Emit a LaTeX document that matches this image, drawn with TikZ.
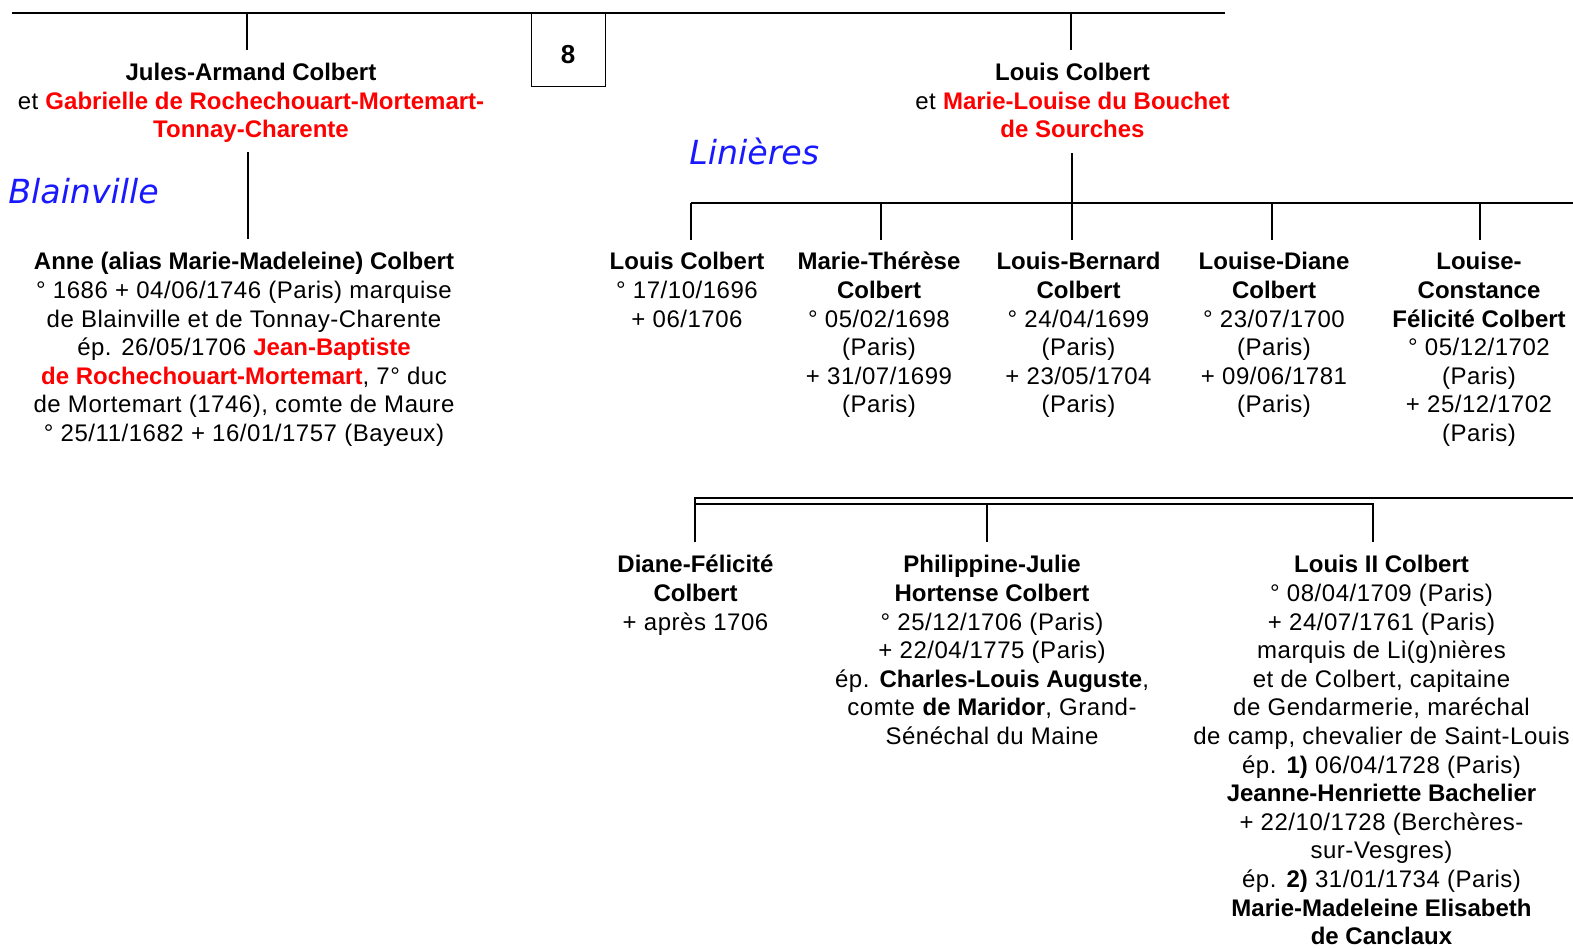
\documentclass[tikz,border=0pt]{standalone}
\usepackage{fontspec}
\setmainfont{Liberation Sans}[UprightFeatures={LetterSpace=2.2}]
\newfontfamily\branchfont{DejaVu Sans}
\definecolor{branchblue}{RGB}{25,25,255}
\definecolor{namered}{RGB}{255,0,0}
\newcommand\spouse[1]{\textcolor{namered}{\textbf{#1}}}
\begin{document}
\begin{tikzpicture}[x=0.5pt,y=-0.5pt,
  person/.style={font=\fontsize{12}{14.3}\selectfont, align=center, inner sep=0pt, anchor=north},
  branch/.style={font=\branchfont\itshape\fontsize{16.6}{19}\selectfont, text=branchblue, inner sep=0pt, anchor=base west},
  numbox/.style={draw, line width=0.5pt, minimum width=37pt, minimum height=36.7pt, inner sep=0pt,
    font=\fontsize{13}{15}\selectfont\bfseries, text height=14.3pt, text depth=0pt},
  link/.style={line width=1pt},
  thinlink/.style={line width=0.7pt}]
\useasboundingbox (0,0) rectangle (1573,948);

% generation line and page number
\coordinate (topL) at (12,12.7);
\coordinate (topR) at (1225,12.7);
\draw[link] (topL) -- (topR);
\node[numbox] (num) at (568,49.4) {8};

% parents
\node[person] (jules) at (251,60) {\strut\textbf{Jules-Armand Colbert}\\
  et \spouse{Gabrielle de Rochechouart-Mortemart-}\\ \spouse{Tonnay-Charente}};
\node[person] (louis) at (1072.5,60) {\strut\textbf{Louis Colbert}\\
  et \spouse{Marie-Louise du Bouchet}\\ \spouse{de Sourches}};

\coordinate (jTop) at (247,12.7);
\coordinate (lTop) at (1071,12.7);
\draw[link] (jTop) -- (247,50);
\draw[link] (lTop) -- (1071,50);

% branch names
\node[branch] (blainville) at (8,203) {Blainville};
\node[branch] (linieres) at (689,164) {Linières};

% Blainville branch
\node[person] (anne) at (244,249.5) {\strut\textbf{Anne (alias Marie-Madeleine) Colbert}\\
  ° 1686 + 04/06/1746 (Paris) marquise\\
  de Blainville et de Tonnay-Charente\\
  ép. 26/05/1706 \spouse{Jean-Baptiste}\\
  \spouse{de Rochechouart-Mortemart}, 7° duc\\
  de Mortemart (1746), comte de Maure\\
  ° 25/11/1682 + 16/01/1757 (Bayeux)};
\coordinate (jBot) at (248,152);
\draw[link] (jBot) -- (248,239);

% Linières branch, first children
\node[person] (c1) at (687,249.5) {\strut\textbf{Louis Colbert}\\ ° 17/10/1696\\ + 06/1706};
\node[person] (c2) at (879,249.5) {\strut\textbf{Marie-Thérèse}\\ \textbf{Colbert}\\ ° 05/02/1698\\ (Paris)\\ + 31/07/1699\\ (Paris)};
\node[person] (c3) at (1078.5,249.5) {\strut\textbf{Louis-Bernard}\\ \textbf{Colbert}\\ ° 24/04/1699\\ (Paris)\\ + 23/05/1704\\ (Paris)};
\node[person] (c4) at (1274,249.5) {\strut\textbf{Louise-Diane}\\ \textbf{Colbert}\\ ° 23/07/1700\\ (Paris)\\ + 09/06/1781\\ (Paris)};
\node[person] (c5) at (1479,249.5) {\strut\textbf{Louise-}\\ \textbf{Constance}\\ \textbf{Félicité Colbert}\\ ° 05/12/1702\\ (Paris)\\ + 25/12/1702\\ (Paris)};

\coordinate (lBot) at (1072,153);
\coordinate (busL) at (691,203);
\coordinate (busR) at (1573,203);
\draw[link] (busL) -- (busR);
\draw[link] (lBot) -- (1072,240);
\foreach \x in {691,881,1272,1480} \draw[link] (\x,203) -- (\x,240);

% Linières branch, later children
\node[person] (d1) at (695.5,552.5) {\strut\textbf{Diane-Félicité}\\ \textbf{Colbert}\\ + après 1706};
\node[person] (d2) at (992,552.5) {\strut\textbf{Philippine-Julie}\\ \textbf{Hortense Colbert}\\
  ° 25/12/1706 (Paris)\\ + 22/04/1775 (Paris)\\
  ép. \textbf{Charles-Louis Auguste},\\ comte \textbf{de Maridor}, Grand-\\ Sénéchal du Maine};
\node[person] (d3) at (1381.5,552.5) {\strut\textbf{Louis II Colbert}\\
  ° 08/04/1709 (Paris)\\ + 24/07/1761 (Paris)\\
  marquis de Li(g)nières\\ et de Colbert, capitaine\\
  de Gendarmerie, maréchal\\ de camp, chevalier de Saint-Louis\\
  ép. \textbf{1)} 06/04/1728 (Paris)\\ \textbf{Jeanne-Henriette Bachelier}\\
  + 22/10/1728 (Berchères-\\ sur-Vesgres)\\
  ép. \textbf{2)} 31/01/1734 (Paris)\\ \textbf{Marie-Madeleine Elisabeth}\\ \textbf{de Canclaux}};

\coordinate (bus2R) at (1573,498);
\draw[link] (695,542) -- (695,498) -- (bus2R);
\draw[thinlink] (695,504) -- (1373,504) -- (1373,542);
\draw[thinlink] (987,504) -- (987,542);
\end{tikzpicture}
\end{document}
